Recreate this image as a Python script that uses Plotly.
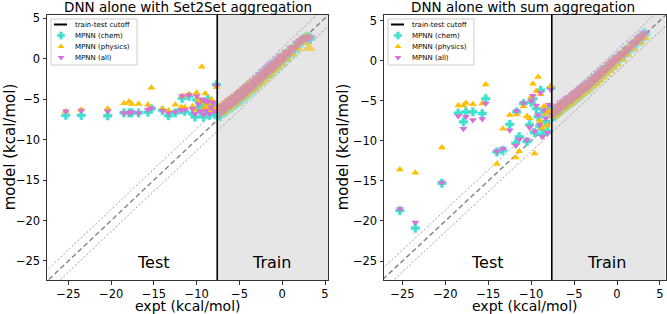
import plotly.graph_objects as go

# ---------------- data ----------------
panel_titles = ["DNN alone with Set2Set aggregation", "DNN alone with sum aggregation"]
series_names = ["MPNN (chem)", "MPNN (physics)", "MPNN (all)"]
cutoff_label = "train-test cutoff"
x_title = "expt (kcal/mol)"
y_title = "model (kcal/mol)"
cutoff = -7.6
band = 1.36

# test-set experimental values (shared across models / panels)
test_expt = [-25.3, -23.5, -20.4, -18.5, -17.9, -17.6, -16.8, -15.7, -15.3, -14.0,
             -13.3, -12.5, -11.8, -11.7, -11.4, -10.9, -10.5, -10.2, -10.0, -9.8,
             -9.6, -9.4, -9.2, -9.0, -8.9, -8.7, -8.5, -8.3, -8.1, -7.9, -7.7]

# Set2Set panel, test predictions
s2s_test_chem = [-7.0, -7.0, -7.05, -6.7, -6.7, -6.7, -6.7, -6.6, -6.2, -6.4,
                 -7.05, -6.7, -6.3, -4.9, -6.5, -4.65, -6.8, -7.2, -5.1, -6.0,
                 -6.4, -5.4, -7.2, -5.6, -6.6, -5.0, -7.0, -6.2, -5.6, -6.9, -3.2]
s2s_test_phys = [-6.5, -6.3, -6.2, -5.5, -5.3, -5.6, -5.6, -5.7, -3.6, -6.2,
                 -6.4, -5.7, -6.0, -4.6, -6.0, -4.4, -5.9, -6.3, -4.2, -5.0,
                 -5.4, -1.0, -6.2, -4.3, -6.0, -5.5, -6.4, -5.0, -5.9, -6.3, -3.5]
s2s_test_all = [-6.5, -6.4, -6.5, -6.7, -6.7, -6.6, -6.7, -6.3, -6.1, -6.4,
                -6.7, -6.6, -6.3, -4.6, -6.3, -4.5, -6.2, -6.8, -4.6, -5.6,
                -6.5, -5.0, -6.9, -5.2, -6.4, -5.3, -6.8, -6.0, -5.4, -6.5, -3.3]

# sum panel, test predictions
sum_test_chem = [-18.7, -20.9, -15.3, -6.55, -7.65, -6.4, -6.4, -6.6, -4.75, -11.4,
                 -11.2, -7.95, -10.3, -6.4, -9.5, -5.35, -10.1, -8.0, -5.2, -4.75,
                 -9.0, -6.0, -7.0, -8.2, -3.7, -9.2, -6.4, -7.6, -8.8, -5.8, -3.4]
sum_test_phys = [-13.6, -14.0, -10.85, -5.6, -5.6, -5.3, -5.45, -5.35, -2.97, -12.9,
                 -8.5, -6.8, -12.1, -6.7, -11.3, -5.7, -6.95, -7.2, -4.5, -2.9,
                 -11.6, -3.8, -2.06, -7.5, -4.2, -8.4, -5.7, -6.6, -8.1, -6.3, -3.2]
sum_test_all = [-18.5, -20.2, -15.2, -6.9, -8.5, -7.0, -7.4, -7.3, -5.35, -11.3,
                -11.0, -8.7, -10.6, -6.3, -9.8, -5.3, -9.9, -8.3, -5.0, -4.4,
                -8.8, -5.6, -6.8, -8.0, -4.0, -9.5, -6.2, -7.2, -9.0, -5.5, -3.6]

# training-set experimental values (shared)
train_expt = [-7.55, -7.4, -7.3, -7.1, -6.95, -6.8, -6.6, -6.45, -6.3, -6.1,
              -5.95, -5.8, -5.6, -5.45, -5.3, -5.1, -4.95, -4.8, -4.6, -4.4,
              -4.25, -4.1, -3.9, -3.7, -3.5, -3.3, -3.1, -2.9, -2.7, -2.5,
              -2.3, -2.1, -1.9, -1.7, -1.5, -1.3, -1.1, -0.9, -0.7, -0.5,
              -0.3, -0.1, 0.2, 0.5, 0.8, 1.1, 1.4, 1.8, 2.2, 2.6, 2.9, 3.2]

s2s_train_chem = [-6.9, -6.5, -7.0, -6.3, -6.6, -6.1, -6.4, -5.7, -6.0, -5.5,
                  -5.9, -5.2, -5.6, -4.9, -5.4, -4.6, -5.1, -4.3, -4.8, -4.0,
                  -4.5, -3.7, -4.1, -3.4, -3.8, -3.0, -3.4, -2.6, -3.0, -2.2,
                  -2.6, -1.8, -2.2, -1.4, -1.8, -1.0, -1.5, -0.7, -1.0, -0.3,
                  -0.7, 0.1, -0.2, 0.5, 0.4, 1.1, 1.0, 1.7, 2.1, 2.4, 2.6, 2.5]
s2s_train_phys = [-6.2, -6.8, -6.0, -6.6, -5.7, -6.4, -5.4, -6.1, -5.2, -5.9,
                  -4.9, -5.6, -4.7, -5.4, -4.5, -5.0, -4.1, -4.8, -3.9, -4.5,
                  -3.5, -4.2, -3.2, -3.9, -2.9, -3.6, -2.6, -3.2, -2.3, -2.9,
                  -1.9, -2.5, -1.5, -2.1, -1.1, -1.7, -0.8, -1.3, -0.4, -0.9,
                  0.1, -0.5, 0.5, 0.0, 1.0, 0.6, 1.5, 1.3, 2.3, 2.0, 2.7, 1.3]
s2s_train_all = [-6.6, -6.2, -6.7, -6.0, -6.3, -5.8, -6.1, -5.5, -5.8, -5.2,
                 -5.6, -5.0, -5.3, -4.7, -5.1, -4.4, -4.8, -4.1, -4.5, -3.8,
                 -4.2, -3.5, -3.8, -3.2, -3.5, -2.8, -3.1, -2.4, -2.7, -2.0,
                 -2.3, -1.6, -1.9, -1.2, -1.5, -0.8, -1.2, -0.5, -0.8, -0.1,
                 -0.4, 0.3, 0.1, 0.8, 0.7, 1.3, 1.3, 1.9, 2.2, 2.5, 2.6, 2.6]

sum_train_chem = [-6.9, -6.4, -6.8, -6.2, -6.5, -6.0, -6.2, -5.6, -5.9, -5.4,
                  -5.6, -5.1, -5.3, -4.9, -5.1, -4.5, -4.8, -4.3, -4.5, -4.0,
                  -4.2, -3.7, -3.8, -3.3, -3.5, -3.0, -3.2, -2.6, -2.8, -2.2,
                  -2.4, -1.8, -2.0, -1.4, -1.6, -1.1, -1.2, -0.7, -0.8, -0.3,
                  -0.4, 0.1, 0.1, 0.6, 0.7, 1.2, 1.3, 1.9, 2.1, 2.7, 2.8, 3.3]
sum_train_phys = [-6.3, -6.9, -6.1, -6.6, -5.8, -6.4, -5.6, -6.0, -5.3, -5.8,
                  -5.0, -5.5, -4.8, -5.3, -4.6, -5.0, -4.2, -4.7, -4.0, -4.4,
                  -3.6, -4.1, -3.3, -3.8, -3.0, -3.5, -2.6, -3.1, -2.3, -2.8,
                  -1.9, -2.4, -1.5, -2.0, -1.1, -1.6, -0.7, -1.2, -0.3, -0.8,
                  0.1, -0.4, 0.5, 0.2, 1.1, 0.8, 1.7, 1.5, 2.5, 2.3, 3.0, 2.9]
sum_train_all = [-6.6, -6.2, -6.5, -5.9, -6.2, -5.7, -5.9, -5.3, -5.6, -5.1,
                 -5.3, -4.8, -5.0, -4.6, -4.8, -4.3, -4.5, -4.0, -4.2, -3.7,
                 -3.9, -3.4, -3.6, -3.1, -3.3, -2.8, -2.9, -2.4, -2.5, -2.0,
                 -2.1, -1.6, -1.7, -1.2, -1.3, -0.9, -0.9, -0.5, -0.5, -0.1,
                 -0.1, 0.3, 0.4, 0.8, 0.9, 1.4, 1.5, 2.1, 2.3, 2.8, 3.0, 3.4]

x_ticks = [-25, -20, -15, -10, -5, 0, 5]
y_ticks = [-25, -20, -15, -10, -5, 0, 5]
diag_x = [-30, 10]

# ---------------- styling ----------------
W, H = 667, 314
FONT = "DejaVu Sans"
colors = ["#40E0D0", "#FFBF00", "#DA70D6"]
symbols = ["cross", "triangle-up", "triangle-down"]
sizes = [7, 7, 7]

panels = [
    dict(test=[s2s_test_chem, s2s_test_phys, s2s_test_all],
         train=[s2s_train_chem, s2s_train_phys, s2s_train_all],
         xr=[-27.5, 5.35], yr=[-27.35, 5.46], xd=[47/W, 328/W], title_x=187.5,
         legend_left=51, ytitle_x=10),
    dict(test=[sum_test_chem, sum_test_phys, sum_test_all],
         train=[sum_train_chem, sum_train_phys, sum_train_all],
         xr=[-27.15, 5.65], yr=[-27.37, 5.75], xd=[384/W, 665.5/W], title_x=523,
         legend_left=388, ytitle_x=343),
]
ydom = [1 - 280/H, 1 - 14.5/H]

fig = go.Figure()
shapes = []
annotations = []

for i, p in enumerate(panels):
    sfx = "" if i == 0 else str(i + 1)
    xa, ya = "x" + sfx, "y" + sfx

    shapes.append(dict(type="rect", xref=xa, yref=ya + " domain", x0=cutoff, x1=p["xr"][1],
                       y0=0, y1=1, fillcolor="#e6e6e6", line=dict(width=0), layer="below"))

    fig.add_trace(go.Scatter(x=diag_x, y=[v + band for v in diag_x], mode="lines", xaxis=xa, yaxis=ya,
                             line=dict(color="#888888", width=0.8, dash="2px,2px"), showlegend=False,
                             hoverinfo="skip"))
    fig.add_trace(go.Scatter(x=diag_x, y=[v - band for v in diag_x], mode="lines", xaxis=xa, yaxis=ya,
                             line=dict(color="#888888", width=0.8, dash="2px,2px"), showlegend=False,
                             hoverinfo="skip"))
    fig.add_trace(go.Scatter(x=diag_x, y=diag_x, mode="lines", xaxis=xa, yaxis=ya,
                             line=dict(color="#888888", width=1.5, dash="5px,3px"), showlegend=False,
                             hoverinfo="skip"))

    for k in range(3):
        fig.add_trace(go.Scatter(x=train_expt, y=p["train"][k], mode="markers", xaxis=xa, yaxis=ya,
                                 marker=dict(symbol=symbols[k], size=sizes[k] + 2, color=colors[k],
                                             line=dict(width=1, color=colors[k])),
                                 opacity=0.6, showlegend=False))
    for k in range(3):
        fig.add_trace(go.Scatter(x=test_expt, y=p["test"][k], mode="markers", xaxis=xa, yaxis=ya,
                                 marker=dict(symbol=symbols[k], size=sizes[k], color=colors[k],
                                             line=dict(width=0.6 if k == 0 else 0, color=colors[k])),
                                 name=series_names[k], showlegend=False))

    shapes.append(dict(type="line", xref=xa, yref=ya + " domain", x0=cutoff, x1=cutoff, y0=0, y1=1,
                       line=dict(color="black", width=1.6), layer="above"))

    annotations.append(dict(text="Test", x=-15.1, y=-25.2, xref=xa, yref=ya, showarrow=False,
                            font=dict(family=FONT, size=16, color="black")))
    annotations.append(dict(text="Train", x=-1.2, y=-25.2, xref=xa, yref=ya, showarrow=False,
                            font=dict(family=FONT, size=16, color="black")))
    annotations.append(dict(text=panel_titles[i], x=p["title_x"] / W, y=1 - 6.5/H,
                            xref="paper", yref="paper", xanchor="center", yanchor="middle",
                            showarrow=False, font=dict(family=FONT, size=13.5, color="black")))
    # axis titles
    annotations.append(dict(text=x_title, x=(p["xd"][0] + p["xd"][1]) / 2, y=1 - 306/H,
                            xref="paper", yref="paper", xanchor="center", yanchor="middle",
                            showarrow=False, font=dict(family=FONT, size=14, color="black")))
    annotations.append(dict(text=y_title, x=p["ytitle_x"] / W, y=(ydom[0] + ydom[1]) / 2,
                            xref="paper", yref="paper", xanchor="center", yanchor="middle",
                            textangle=-90, showarrow=False,
                            font=dict(family=FONT, size=15, color="black")))

    axis_common = dict(showline=True, linecolor="#333333", linewidth=1, mirror=True, ticks="outside",
                       ticklen=3.5, tickcolor="#333333", showgrid=False, zeroline=False,
                       tickfont=dict(family=FONT, size=11.5, color="black"))
    fig.layout["xaxis" + sfx] = dict(domain=p["xd"], range=p["xr"], tickvals=x_ticks, anchor=ya,
                                     **axis_common)
    fig.layout["yaxis" + sfx] = dict(domain=ydom, range=p["yr"], tickvals=y_ticks, anchor=xa,
                                     **axis_common)

    # ---- hand-drawn legend (pixel coordinates on an overlay axis pair) ----
    L = p["legend_left"]
    box_x = [L, L + 86, L + 86, L, L]
    box_y = [19, 19, 65, 65, 19]
    fig.add_trace(go.Scatter(x=box_x, y=box_y, mode="lines", fill="toself",
                             fillcolor="rgba(255,255,255,0.85)", line=dict(color="#cccccc", width=1),
                             xaxis="x3", yaxis="y3", showlegend=False, hoverinfo="skip"))
    fig.add_trace(go.Scatter(x=[L + 3, L + 16], y=[24.5, 24.5], mode="lines",
                             line=dict(color="black", width=2), xaxis="x3", yaxis="y3",
                             showlegend=False, hoverinfo="skip"))
    rows = [35.5, 46.5, 57.5]
    for k in range(3):
        fig.add_trace(go.Scatter(x=[L + 10], y=[rows[k]], mode="markers", xaxis="x3", yaxis="y3",
                                 marker=dict(symbol=symbols[k], size=sizes[k] - 1, color=colors[k],
                                             line=dict(width=0.6 if k == 0 else 0, color=colors[k])),
                                 showlegend=False, hoverinfo="skip"))
    labels = [cutoff_label] + series_names
    for r, lab in zip([24.5] + rows, labels):
        annotations.append(dict(text=lab, x=(L + 22) / W, y=1 - r / H, xref="paper", yref="paper",
                                xanchor="left", yanchor="middle", showarrow=False,
                                font=dict(family=FONT, size=7, color="black")))

fig.layout["xaxis3"] = dict(domain=[0, 1], range=[0, W], visible=False, anchor="y3", fixedrange=True)
fig.layout["yaxis3"] = dict(domain=[0, 1], range=[H, 0], visible=False, anchor="x3", fixedrange=True)

fig.update_layout(
    width=W, height=H, margin=dict(l=0, r=0, t=0, b=0, autoexpand=False),
    paper_bgcolor="white", plot_bgcolor="rgba(0,0,0,0)",
    shapes=shapes, annotations=annotations, showlegend=False,
    font=dict(family=FONT),
)

fig.write_html("out.html", config={"displayModeBar": False},
               post_script="document.body.style.margin='0px';")
